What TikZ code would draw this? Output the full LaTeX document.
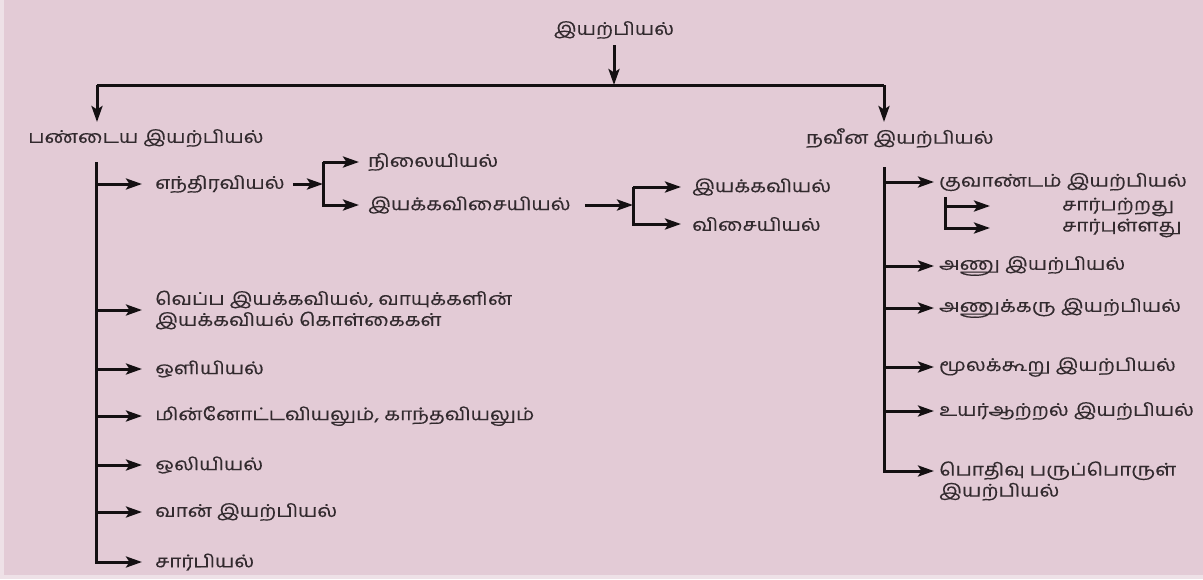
\documentclass[tikz,border=0pt]{standalone}
\usepackage{fontspec}
\newfontfamily\tam[Script=Tamil,FakeStretch=1.18,FakeBold=0.3]{Hind Madurai}
\usetikzlibrary{arrows.meta}
\definecolor{bg}{RGB}{227,203,214}
\definecolor{edge}{RGB}{238,225,231}
\definecolor{ink}{RGB}{20,16,18}
\definecolor{txt}{RGB}{50,42,46}
\begin{document}
\begin{tikzpicture}[x=1pt,y=-1pt,
  lbl/.style={anchor=west,inner sep=0pt,align=left,font=\tam\fontsize{17.5}{21}\selectfont,text=txt},
  conn/.style={draw=ink,line width=3pt,-{Stealth[length=16pt,width=11pt,inset=3.5pt]}},
  trunk/.style={draw=ink,line width=3pt}]
\useasboundingbox (0,0) rectangle (1203,579);
\fill[edge] (0,0) rectangle (1203,579);
\fill[bg] (4,0) rectangle (1203,575);

% top level
\node[lbl,anchor=center] (root) at (614,30) {இயற்பியல்};
\coordinate (top) at (614,85);
\coordinate (tl) at (97,85);
\coordinate (tr) at (884,85);
\coordinate (ancArr) at (97,122);
\coordinate (modArr) at (884,122);
\node[lbl] (anc) at (28,138) {பண்டைய இயற்பியல்};
\node[lbl] (mod) at (806,138) {நவீன இயற்பியல்};
\draw[conn] ([yshift=-6pt]root.south) -- (top);
\draw[trunk] (tl) -- (tr);
\draw[conn] (tl) -- (ancArr);
\draw[conn] (tr) -- (modArr);

% classical physics branch
\coordinate (lv) at (96,162);
\node[lbl] (a1) at (155,184) {எந்திரவியல்};
\node[lbl] (a2) at (155,310) {வெப்ப இயக்கவியல், வாயுக்களின்\\இயக்கவியல் கொள்கைகள்};
\node[lbl] (a3) at (155,369) {ஒளியியல்};
\node[lbl] (a4) at (155,416) {மின்னோட்டவியலும், காந்தவியலும்};
\node[lbl] (a5) at (155,465) {ஒலியியல்};
\node[lbl] (a6) at (155,512) {வான் இயற்பியல்};
\node[lbl] (a7) at (155,562) {சார்பியல்};
\draw[conn] (lv) |- ([xshift=-13pt]a7.west);
\foreach \n in {a1,a2,a3,a4,a5,a6}
  \draw[conn] (lv |- \n.west) -- ([xshift=-13pt]\n.west);

% mechanics
\coordinate (m1) at (323,184);
\node[lbl] (b1) at (368,162) {நிலையியல்};
\node[lbl] (b2) at (368,205) {இயக்கவிசையியல்};
\draw[conn] ([xshift=8pt]a1.east) -- (m1);
\draw[conn] (m1 |- b1.west) |- ([xshift=-9pt]b2.west);
\draw[conn] (m1 |- b1.west) -- ([xshift=-9pt]b1.west);

% dynamics
\coordinate (m2) at (633,205);
\node[lbl] (c1) at (692,187) {இயக்கவியல்};
\node[lbl] (c2) at (692,224) {விசையியல்};
\draw[conn] ([xshift=14pt]b2.east) -- (m2);
\draw[conn] (m2 |- c1.west) |- ([xshift=-11pt]c2.west);
\draw[conn] (m2 |- c1.west) -- ([xshift=-11pt]c1.west);

% modern physics branch
\coordinate (rv) at (884,167);
\node[lbl] (d1) at (939,182) {குவாண்டம் இயற்பியல்};
\node[lbl] (d2) at (939,266) {அணு இயற்பியல்};
\node[lbl] (d3) at (939,308) {அணுக்கரு இயற்பியல்};
\node[lbl] (d4) at (939,367) {மூலக்கூறு இயற்பியல்};
\node[lbl] (d5) at (939,411) {உயர்ஆற்றல் இயற்பியல்};
\node[lbl] (d6) at (939,481) {பொதிவு பருப்பொருள்\\இயற்பியல்};
\draw[conn] (rv) |- ([shift={(-5pt,10pt)}]d6.west);
\foreach \n in {d1,d2,d3,d4,d5}
  \draw[conn] (rv |- \n.west) -- ([xshift=-5pt]\n.west);

% quantum sub-branch
\coordinate (q) at (945,197);
\node[lbl] (e1) at (1062,207) {சார்பற்றது};
\node[lbl] (e2) at (1062,228) {சார்புள்ளது};
\coordinate (e1a) at (990,206);
\coordinate (e2a) at (990,228);
\draw[conn] (q) |- (e2a);
\draw[conn] (q |- e1a) -- (e1a);
\end{tikzpicture}
\end{document}
